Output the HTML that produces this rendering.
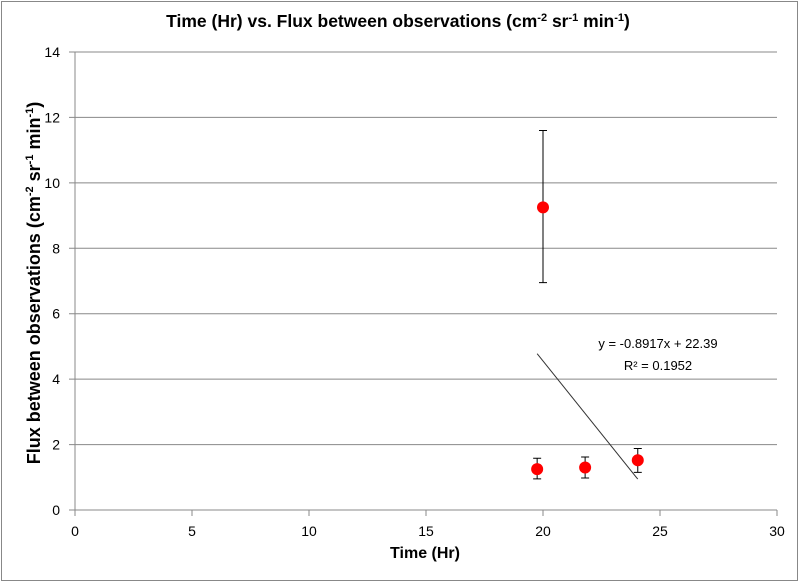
<!DOCTYPE html>
<html><head><meta charset="utf-8"><style>
body{margin:0;background:#fff}
svg text{font-family:"Liberation Sans",sans-serif;fill:#000}
</style></head><body>
<svg width="800" height="583" id="c">
<rect x="1.5" y="1.5" width="796" height="579" fill="#fff" stroke="#888"/>
<text x="398" y="27" text-anchor="middle" font-size="17.5" font-weight="bold">Time (Hr) vs. Flux between observations (cm<tspan font-size="11" dy="-6">-2</tspan><tspan dy="6"> sr</tspan><tspan font-size="11" dy="-6">-1</tspan><tspan dy="6"> min</tspan><tspan font-size="11" dy="-6">-1</tspan><tspan dy="6">)</tspan></text>
<g id="grid"></g><g id="axes"></g><g id="marks"></g>
<text x="425" y="558" text-anchor="middle" font-size="16" font-weight="bold">Time (Hr)</text>
<text transform="translate(40,283) rotate(-90)" text-anchor="middle" font-size="18" font-weight="bold">Flux between observations (cm<tspan font-size="11" dy="-7">-2</tspan><tspan dy="7"> sr</tspan><tspan font-size="11" dy="-7">-1</tspan><tspan dy="7"> min</tspan><tspan font-size="11" dy="-7">-1</tspan><tspan dy="7">)</tspan></text>
<text x="658" y="348" text-anchor="middle" font-size="13">y = -0.8917x + 22.39</text>
<text x="658" y="370" text-anchor="middle" font-size="13">R² = 0.1952</text>
</svg>
<script>
const xTicks=[0,5,10,15,20,25,30];
const yTicks=[0,2,4,6,8,10,12,14];
const xs=[19.75,21.8,24.05,20];
const ys=[1.25,1.3,1.52,9.25];
const errLo=[0.95,0.98,1.15,6.95];
const errHi=[1.58,1.62,1.88,11.6];
const slope=-0.8917, intercept=22.39;
const X=v=>75+v*(702/30), Y=v=>510-v*(458/14);
const NS="http://www.w3.org/2000/svg";
function mk(p,t,a){const e=document.createElementNS(NS,t);for(const k in a)e.setAttribute(k,a[k]);document.getElementById(p).appendChild(e);return e;}
yTicks.forEach(t=>{
 if(t>0){const g=mk('grid','line',{x1:69,x2:777,y1:Y(t),y2:Y(t),stroke:'#888'});
 
 }
 const l=mk('axes','text',{x:60,y:Y(t)+5,'text-anchor':'end','font-size':14});l.textContent=t;
 
 
});
const ya=mk('axes','line',{x1:75,x2:75,y1:Y(14),y2:Y(0),stroke:'#888'});


const xa=mk('axes','line',{x1:69,x2:777,y1:510,y2:510,stroke:'#888'});


xTicks.forEach(t=>{
 const tk=mk('axes','line',{x1:X(t),x2:X(t),y1:510,y2:516,stroke:'#888'});
 
 
 const l=mk('axes','text',{x:X(t),y:536,'text-anchor':'middle','font-size':14});l.textContent=t;
 
 
});
const n=xs.length;
const minX=Math.min(...xs.slice(0,3)), maxX=Math.max(...xs);
const tl=mk('marks','line',{x1:X(minX),y1:Y(slope*minX+intercept),x2:X(maxX),y2:Y(slope*maxX+intercept),stroke:'#333','stroke-width':1});


for(let i=0;i<n;i++){
 const x=X(xs[i]);
 const e=mk('marks','path',{d:`M${x},${Y(errLo[i])}V${Y(errHi[i])}M${x-4},${Y(errLo[i])}h8M${x-4},${Y(errHi[i])}h8`,stroke:'#000',fill:'none'});
 
 
 const c=mk('marks','circle',{cx:x,cy:Y(ys[i]),r:6,fill:'#f00'});
 
 
}
</script>
</body></html>
